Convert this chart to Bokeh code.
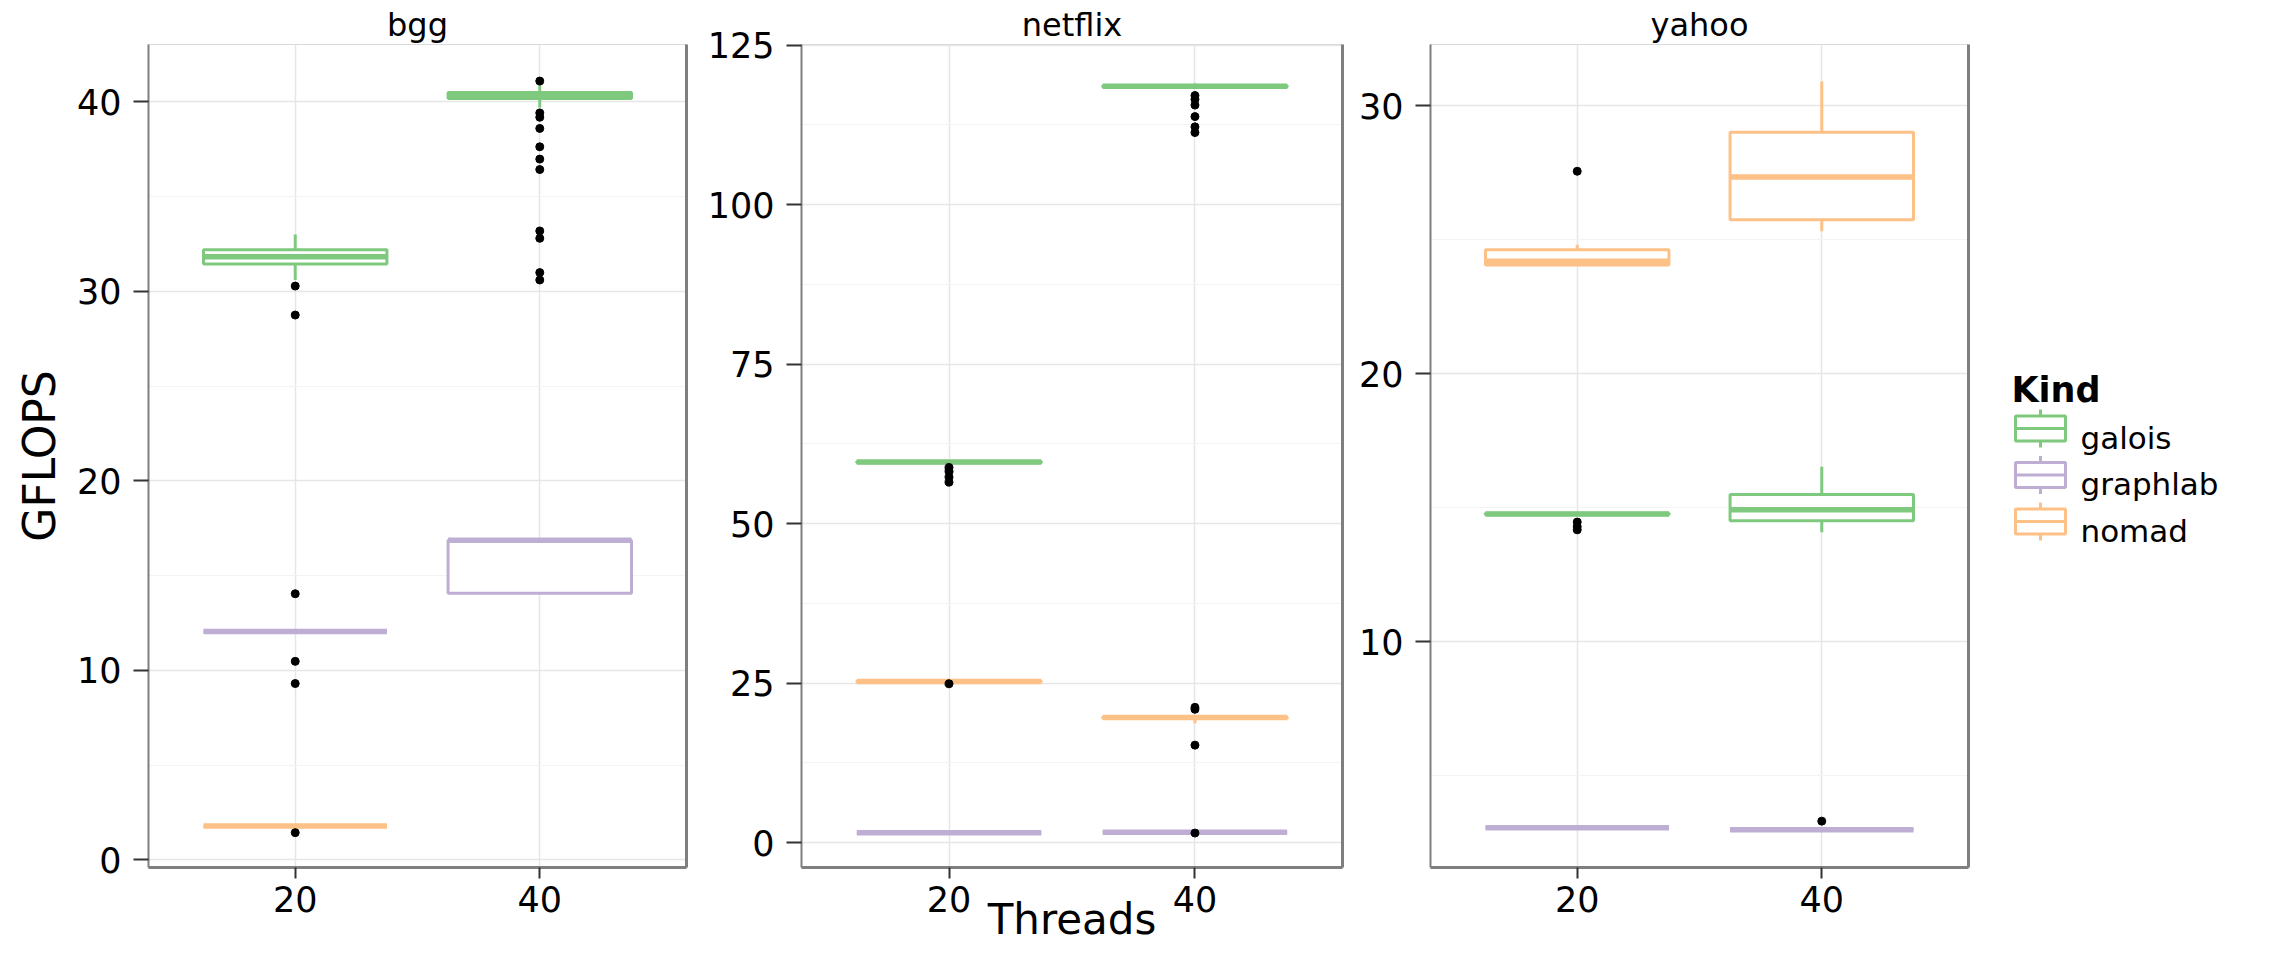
from bokeh.plotting import figure
from bokeh.layouts import row
from bokeh.models import (ColumnDataSource, FactorRange, Range1d, SingleIntervalTicker,
                          LinearAxis, FixedTicker)
from bokeh.transform import dodge
from bokeh.embed import file_html
from bokeh.resources import INLINE
from bokeh.core.properties import value

# ---------------- data ----------------
datasets = ["bgg", "netflix", "yahoo"]
threads = ["20", "40"]
kinds = ["galois", "graphlab", "nomad"]
kind_colors = ["#7fc97f", "#beaed4", "#fdc086"]

# box statistics (one entry per dataset/kind/thread)
box_dataset = ["bgg", "bgg", "bgg", "bgg", "bgg",
               "netflix", "netflix", "netflix", "netflix", "netflix", "netflix",
               "yahoo", "yahoo", "yahoo", "yahoo", "yahoo", "yahoo"]
box_kind = ["galois", "galois", "graphlab", "graphlab", "nomad",
            "galois", "galois", "graphlab", "graphlab", "nomad", "nomad",
            "galois", "galois", "graphlab", "graphlab", "nomad", "nomad"]
box_thread = ["20", "40", "20", "40", "20",
              "20", "40", "20", "40", "20", "40",
              "20", "40", "20", "40", "20", "40"]
box_lower = [30.6, 39.7, 12.05, 14.07, 1.78,
             59.45, 118.3, 1.54, 1.63, 25.2, 18.7,
             14.72, 14.09, 3.06, 2.99, 24.04, 25.32]
box_q1 = [31.45, 40.18, 12.05, 14.07, 1.78,
          59.55, 118.45, 1.54, 1.63, 25.22, 19.5,
          14.74, 14.52, 3.06, 2.99, 24.06, 25.75]
box_median = [31.83, 40.35, 12.05, 16.86, 1.78,
              59.67, 118.56, 1.54, 1.63, 25.27, 19.6,
              14.77, 14.93, 3.06, 2.99, 24.2, 27.35]
box_q3 = [32.2, 40.5, 12.05, 16.86, 1.78,
          59.75, 118.65, 1.54, 1.63, 25.32, 19.7,
          14.8, 15.5, 3.06, 2.99, 24.63, 29.02]
box_upper = [33.0, 40.97, 12.05, 16.86, 1.78,
             59.85, 119.0, 1.54, 1.63, 25.35, 19.9,
             14.82, 16.53, 3.06, 2.99, 24.82, 30.91]

# outliers
out_dataset = (["bgg"] * 6 + ["bgg"] * 11 +
               ["netflix"] * 5 + ["netflix"] * 10 +
               ["yahoo"] * 4 + ["yahoo"])
out_thread = (["20"] * 6 + ["40"] * 11 +
              ["20"] * 5 + ["40"] * 10 +
              ["20"] * 4 + ["40"])
out_value = [30.28, 28.75, 14.04, 10.47, 9.3, 1.43,
             41.1, 39.42, 39.19, 38.6, 37.63, 36.98, 36.43, 33.19, 32.8, 30.99, 30.6,
             58.8, 58.2, 57.3, 56.5, 24.9,
             117.1, 116.5, 115.6, 113.8, 112.2, 111.3, 21.2, 20.9, 15.28, 1.5,
             27.56, 14.47, 14.3, 14.18,
             3.31]

# y-axis limits and tick spacing
y_limits = {"bgg": (-0.41, 43.03), "netflix": (-3.9, 125.1), "yahoo": (1.58, 32.29)}
y_interval = {"bgg": 10, "netflix": 25, "yahoo": 10}

# ---------------- layout / style ----------------
FONT = "DejaVu Sans"
FRAME_H = 823
TOP = 44
BOTTOM = 88
frame_widths = [538, 541, 538]
left_borders = [148, 105, 78]
GRID = "#e6e6e6"
MINOR = "#f3f3f3"
AXIS = "#7f7f7f"
BOX_LW = 3
MED_LW = 5.5


def make_panel(i, name):
    p = figure(x_range=FactorRange(factors=threads, range_padding=0.1),
               y_range=Range1d(*y_limits[name]),
               frame_width=frame_widths[i], frame_height=FRAME_H,
               min_border_left=left_borders[i], min_border_right=10,
               min_border_top=TOP, min_border_bottom=BOTTOM,
               toolbar_location=None, output_backend="svg",
               background_fill_color="white", border_fill_color="white")
    p.title.text = name
    p.title.align = "center"
    p.title.text_font = FONT
    p.title.text_font_size = "32px"
    p.title.text_font_style = "normal"
    p.title.text_color = "black"
    p.title.standoff = 2
    p.outline_line_color = "#d9d9d9"
    p.outline_line_width = 1

    xa = p.xaxis[0]
    ya = p.yaxis[0]
    ya.ticker = SingleIntervalTicker(interval=y_interval[name], num_minor_ticks=2)
    for ax in (xa, ya):
        ax.major_label_text_font = FONT
        ax.major_label_text_font_size = "35px"
        ax.major_label_text_color = "black"
        ax.major_tick_in = 0
        ax.major_tick_line_color = "#333333"
        ax.major_tick_line_width = 2
        ax.minor_tick_line_color = None
        ax.axis_line_color = AXIS
    ya.major_tick_out = 15
    ya.major_label_standoff = 12
    ya.axis_line_width = 2
    xa.major_tick_out = 11
    xa.major_label_standoff = 7
    xa.axis_line_width = 3

    right = LinearAxis(ticker=FixedTicker(ticks=[]), major_label_text_font_size="0px",
                       major_tick_line_color=None, minor_tick_line_color=None,
                       major_tick_out=0, major_tick_in=0, major_label_standoff=0,
                       axis_line_color=AXIS, axis_line_width=3)
    p.add_layout(right, "right")

    p.xgrid.grid_line_color = GRID
    p.xgrid.grid_line_width = 1.5
    p.ygrid.grid_line_color = GRID
    p.ygrid.grid_line_width = 1.5
    p.ygrid.minor_grid_line_color = MINOR
    p.ygrid.minor_grid_line_width = 1

    for kind, col in zip(kinds, kind_colors):
        idx = [j for j in range(len(box_dataset))
               if box_dataset[j] == name and box_kind[j] == kind]
        if not idx:
            continue
        src = ColumnDataSource(dict(
            x=[box_thread[j] for j in idx],
            lower=[box_lower[j] for j in idx],
            q1=[box_q1[j] for j in idx],
            med=[box_median[j] for j in idx],
            q3=[box_q3[j] for j in idx],
            upper=[box_upper[j] for j in idx],
        ))
        p.segment(x0="x", y0="lower", x1="x", y1="q1", source=src,
                  line_color=col, line_width=BOX_LW)
        p.segment(x0="x", y0="q3", x1="x", y1="upper", source=src,
                  line_color=col, line_width=BOX_LW)
        p.vbar(x="x", width=0.75, bottom="q1", top="q3", source=src,
               fill_color="white", line_color=col, line_width=BOX_LW)
        p.segment(x0=dodge("x", -0.375, range=p.x_range), y0="med",
                  x1=dodge("x", 0.375, range=p.x_range), y1="med", source=src,
                  line_color=col, line_width=MED_LW)

    oidx = [j for j in range(len(out_dataset)) if out_dataset[j] == name]
    osrc = ColumnDataSource(dict(x=[out_thread[j] for j in oidx],
                                 y=[out_value[j] for j in oidx]))
    p.scatter(x="x", y="y", source=osrc, size=8, color="black")
    return p


panels = [make_panel(i, n) for i, n in enumerate(datasets)]

ya0 = panels[0].yaxis[0]
ya0.axis_label = "GFLOPS"
ya0.axis_label_text_font = FONT
ya0.axis_label_text_font_size = "44px"
ya0.axis_label_text_font_style = "normal"
ya0.axis_label_text_color = "black"
ya0.axis_label_standoff = 9

xa1 = panels[1].xaxis[0]
xa1.axis_label = "Threads"
xa1.axis_label_text_font = FONT
xa1.axis_label_text_font_size = "42px"
xa1.axis_label_text_font_style = "normal"
xa1.axis_label_text_color = "black"
xa1.axis_label_standoff = -20

# ---------------- legend panel ----------------
# local coordinates: pixels measured from the top of the plotting frames
LG_W = 290
lg = figure(width=LG_W, height=TOP + FRAME_H + BOTTOM,
            x_range=Range1d(0, LG_W), y_range=Range1d(FRAME_H, 0),
            min_border_left=0, min_border_right=0,
            min_border_top=TOP, min_border_bottom=BOTTOM,
            toolbar_location=None, output_backend="svg",
            x_axis_location=None, y_axis_location=None)
lg.grid.visible = False
lg.outline_line_color = None

row_y = [384 + 46.5 * k for k in range(len(kinds))]
key_x = [62] * len(kinds)
lsrc = ColumnDataSource(dict(x=key_x, y=row_y, col=kind_colors, label=kinds,
                             top=[v - 12.5 for v in row_y], bot=[v + 12.5 for v in row_y],
                             wt=[v - 19 for v in row_y], wb=[v + 19 for v in row_y],
                             tx=[102] * len(kinds), ty=[v + 9 for v in row_y]))
lg.segment(x0="x", y0="wt", x1="x", y1="wb", source=lsrc, line_color="col", line_width=BOX_LW)
lg.quad(left=37, right=87, top="top", bottom="bot", source=lsrc,
        fill_color="white", line_color="col", line_width=BOX_LW)
lg.segment(x0=37, y0="y", x1=87, y1="y", source=lsrc, line_color="col", line_width=BOX_LW)
lg.text(x="tx", y="ty", text="label", source=lsrc, text_font=value(FONT),
        text_font_size="31px", text_baseline="alphabetic", text_color="black")
lg.text(x=[33], y=[345], text=["Kind"], text_font=value(FONT), text_font_size="35px",
        text_font_style="bold", text_baseline="alphabetic", text_color="black")

layout = row(*panels, lg)
open("out.html", "w").write(file_html(layout, INLINE))
